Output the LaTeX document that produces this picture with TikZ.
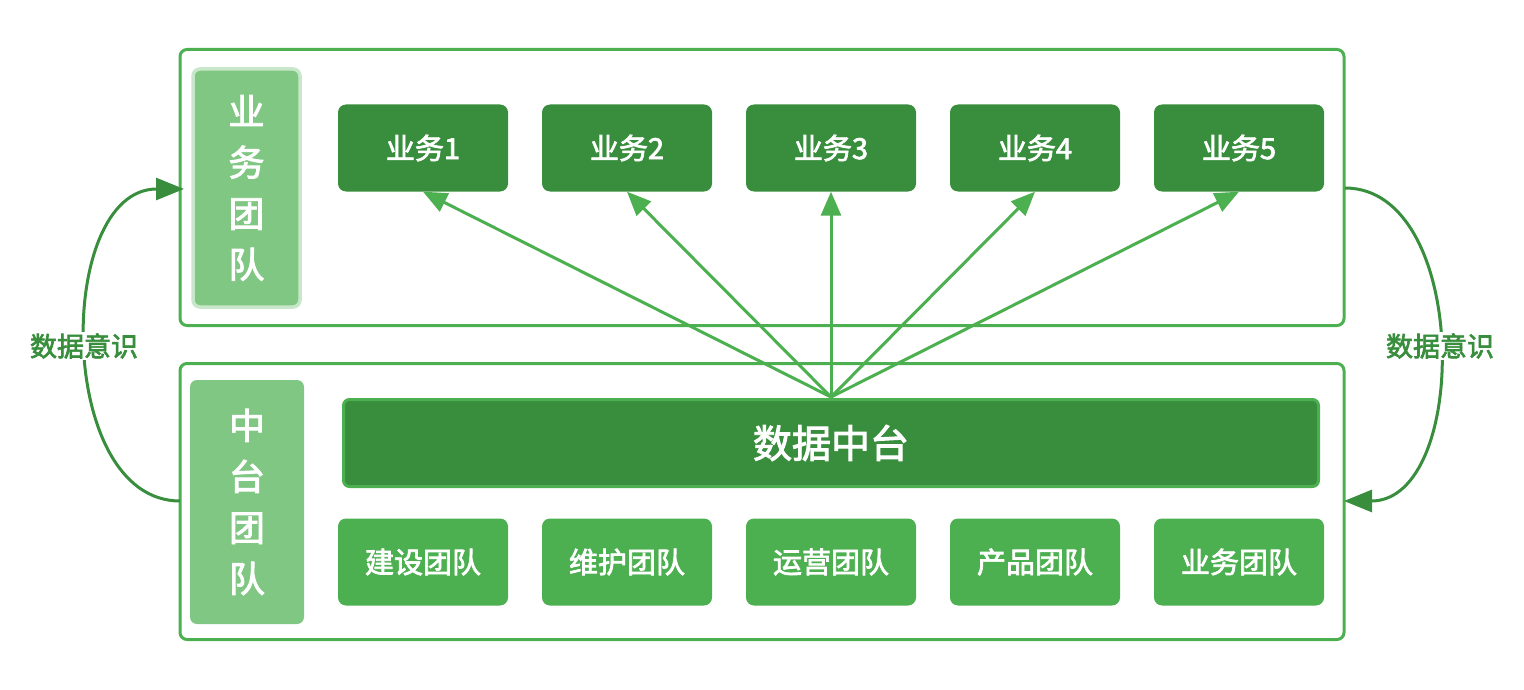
\documentclass[tikz,border=0pt]{standalone}
\usepackage{fontspec}
\setmainfont{Noto Sans CJK SC}
\newfontfamily\medfont{Noto Sans CJK SC}[UprightFeatures={FakeBold=2.5}]
\usetikzlibrary{arrows.meta}
\definecolor{gdark}{HTML}{388E3C}
\definecolor{gmid}{HTML}{4CAF50}
\definecolor{glight}{HTML}{81C784}
\definecolor{gpale}{HTML}{C8E6C9}
\tikzset{
  frame/.style={draw=gmid, line width=3pt, rounded corners=7pt},
  sidebox/.style={fill=glight, rounded corners=7pt, text=white, align=center,
    font=\medfont\fontsize{36}{51}\selectfont},
  bizbox/.style={fill=gdark, rounded corners=8pt, text=white,
    minimum width=170pt, minimum height=87pt, inner sep=0pt,
    font=\medfont\fontsize{29}{31}\selectfont},
  teambox/.style={fill=gmid, rounded corners=8pt, text=white,
    minimum width=170pt, minimum height=87pt, inner sep=0pt,
    font=\medfont\fontsize{29}{31}\selectfont},
  feed/.style={draw=gmid, line width=3pt, -{Triangle[length=24pt,width=20pt]}},
  loop/.style={draw=gdark, line width=3pt, -{Triangle[length=28pt,width=22pt]}},
  looplabel/.style={text=gdark, fill=white, inner sep=1pt,
    font=\medfont\fontsize{27}{29}\selectfont},
}
\begin{document}
\begin{tikzpicture}[x=1pt, y=-1pt]
  \useasboundingbox (0,0) rectangle (1524,690);

  % outer frames
  \node[frame, minimum width=1164pt, minimum height=276pt, inner sep=0pt] (top) at (762,187.5) {};
  \node[frame, minimum width=1164pt, minimum height=276pt, inner sep=0pt] (bot) at (762,501.5) {};

  % side labels
  \node[sidebox, draw=gpale, line width=3.5pt, minimum width=107pt, minimum height=238pt, inner sep=0pt] (bizteam) at (246.5,188) {业\\务\\团\\队};
  \node[sidebox, minimum width=114pt, minimum height=244pt, inner sep=0pt] (midteam) at (247,502) {中\\台\\团\\队};

  % business units
  \node[bizbox] (b1) at (423,148) {业务1};
  \node[bizbox] (b2) at (627,148) {业务2};
  \node[bizbox] (b3) at (831,148) {业务3};
  \node[bizbox] (b4) at (1035,148) {业务4};
  \node[bizbox] (b5) at (1239,148) {业务5};

  % data platform
  \node[fill=gdark, draw=gmid, line width=3pt, rounded corners=6pt, text=white,
        minimum width=975pt, minimum height=87pt, inner sep=0pt,
        font=\medfont\fontsize{39}{42}\selectfont] (dp) at (831,443) {数据中台};

  % platform teams
  \node[teambox] (t1) at (423,562) {建设团队};
  \node[teambox] (t2) at (627,562) {维护团队};
  \node[teambox] (t3) at (831,562) {运营团队};
  \node[teambox] (t4) at (1035,562) {产品团队};
  \node[teambox] (t5) at (1239,562) {业务团队};

  % feeds from the platform to each business
  \coordinate (hub) at (831,397);
  \foreach \b in {b1,b2,b3,b4,b5}
    \draw[feed] (hub) -- (\b.south);

  % data awareness loops
  \coordinate (lstart) at (180,501);
  \coordinate (lend) at (184,189);
  \coordinate (rstart) at (1345,188);
  \coordinate (rend) at (1344,501);
  \draw[loop] (lstart) .. controls (55,501) and (55,189) .. (lend);
  \draw[loop] (rstart) .. controls (1470,188) and (1470,501) .. (rend);
  \node[looplabel] (ll) at (84,346) {数据意识};
  \node[looplabel] (rl) at (1440,346) {数据意识};
\end{tikzpicture}
\end{document}
